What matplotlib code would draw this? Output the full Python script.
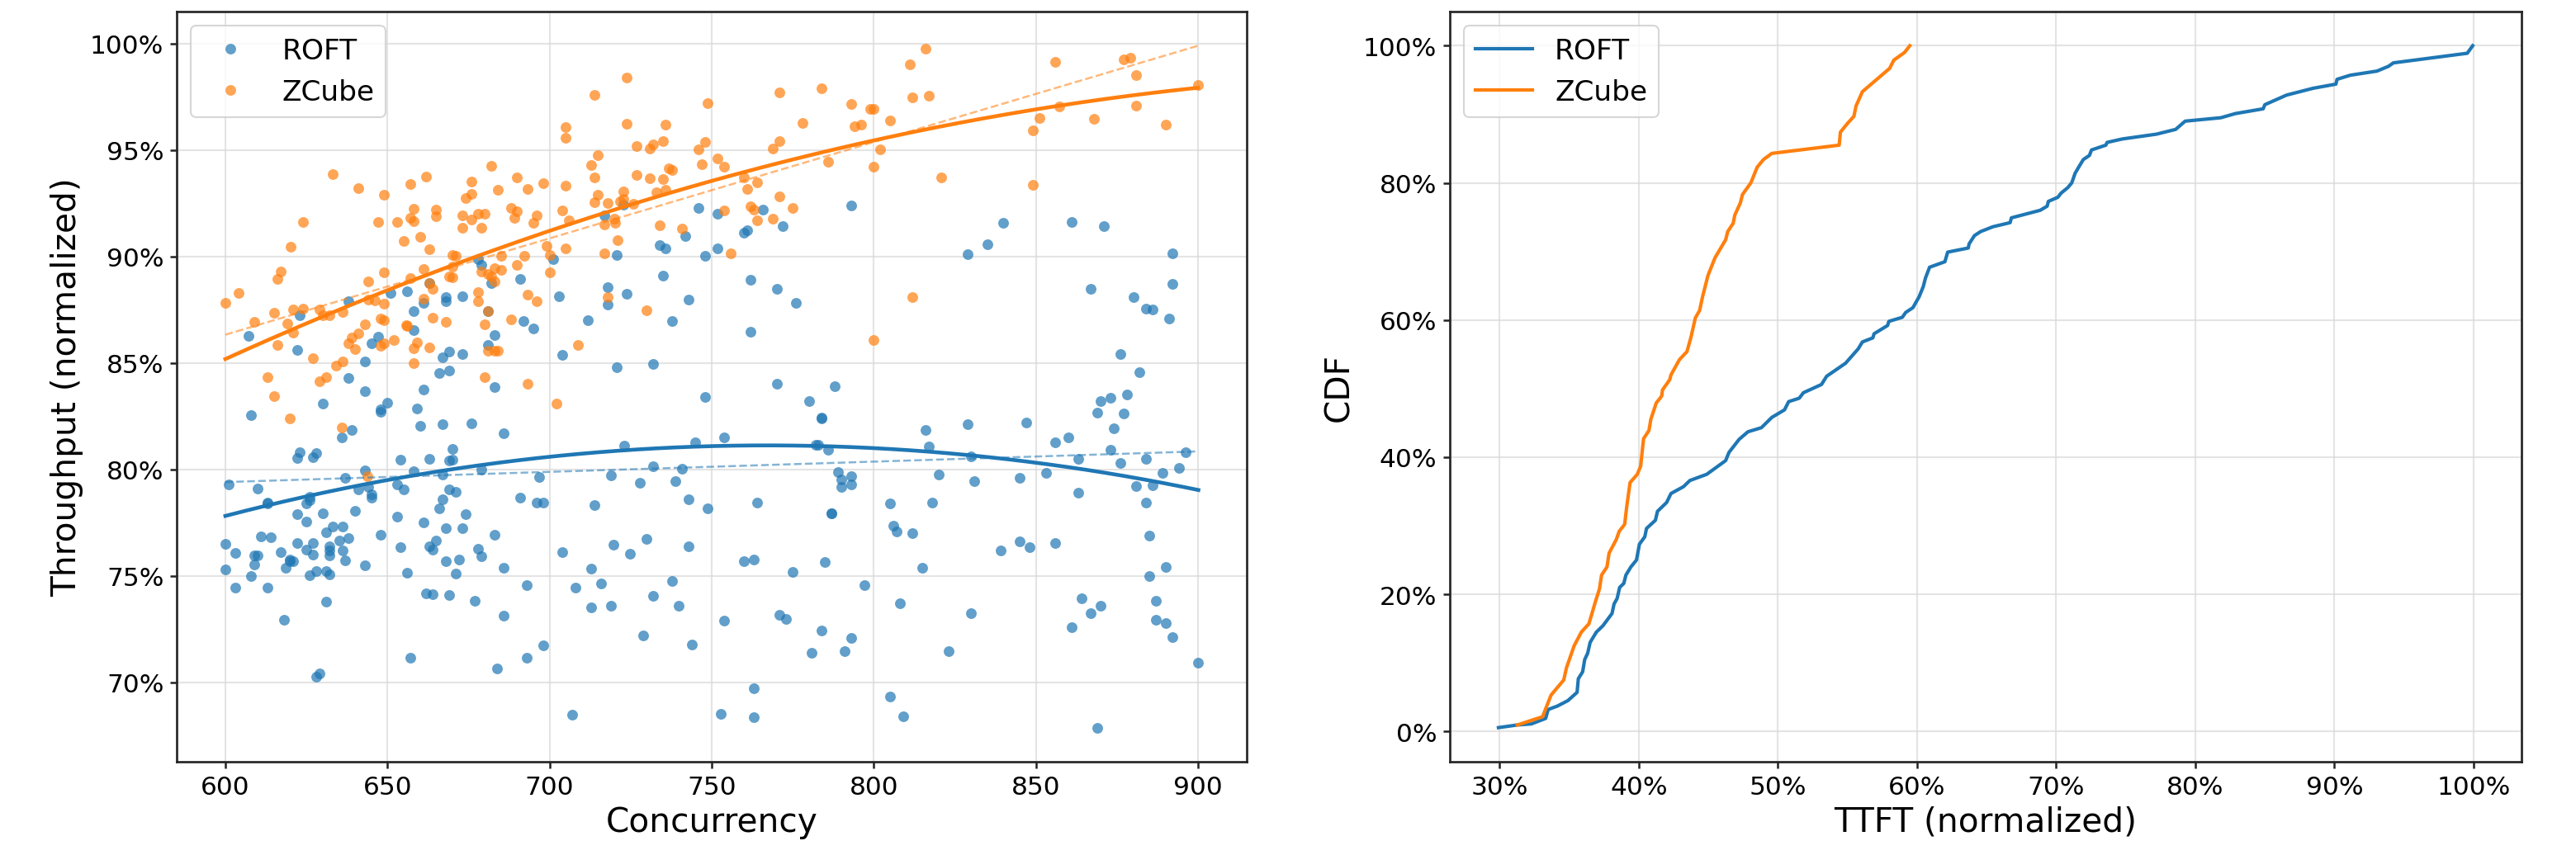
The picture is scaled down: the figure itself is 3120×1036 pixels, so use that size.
import matplotlib
matplotlib.use("Agg")
import matplotlib.pyplot as plt
from matplotlib.ticker import MultipleLocator, PercentFormatter
import numpy as np

# ---- scatter data: concurrency vs normalized throughput (%) ----
roft_conc = [
    607.1, 623.0, 622.1, 637.9, 637.9, 643.0, 643.0, 645.0, 647.0, 651.0, 656.0, 658.0, 658.0, 661.0, 661.0,
    663.0, 666.0, 667.1, 668.0, 668.0, 669.0, 669.0, 673.0, 673.0, 678.0, 679.0, 682.0, 681.0, 683.0, 681.0,
    683.0, 691.0, 692.0, 695.0, 701.0, 703.0, 704.0, 711.9, 716.9, 717.9, 717.9, 720.8, 720.8, 722.8, 723.8,
    731.9, 733.9, 735.8, 734.9, 737.8, 741.8, 742.9, 745.9, 747.9, 751.8, 751.8, 747.9,
    759.9, 760.9, 765.9, 772.0, 761.9, 770.0, 776.0, 761.9, 770.0, 787.9, 793.0, 829.0, 835.0, 839.9, 861.0,
    871.0, 892.1, 892.1, 867.0, 880.1, 884.0, 886.0, 891.1, 876.1, 882.0, 873.0, 878.0,
    608.0, 630.0, 648.0, 648.0, 650.0, 659.0, 660.0, 667.0, 676.0, 685.9, 635.9, 639.0, 623.0, 622.1, 627.0,
    628.0, 670.0, 654.0, 663.0, 669.0, 670.0, 722.9, 744.9, 753.9, 643.0, 658.0, 679.0, 731.9, 740.8, 601.0,
    610.0, 637.0, 644.0, 641.0, 645.1, 645.1, 652.9, 655.0, 667.0, 669.0, 671.0, 667.0, 666.0, 696.9, 719.0,
    727.9, 738.9, 742.9, 748.8, 691.0, 696.0, 698.0, 713.9, 613.0, 613.0, 626.0, 626.0, 625.0, 630.0, 622.1,
    625.0, 640.0, 652.9, 661.0, 674.0, 673.0, 668.0, 633.0, 631.0, 636.1, 648.0, 611.0, 614.0, 600.0, 622.1,
    627.0, 635.1, 638.0, 632.0, 632.0, 632.0, 636.1, 625.0, 627.0, 603.1, 609.0, 610.0, 609.0, 617.0, 620.0,
    620.0, 621.0, 637.0, 618.6, 600.0, 608.0, 626.0, 628.0, 631.0, 632.0, 643.0, 654.0, 663.0, 664.0, 665.0,
    668.0, 672.0, 671.0, 656.0, 678.0, 679.0, 683.0, 685.9, 704.0, 712.9, 719.8, 724.8, 729.9, 742.9, 603.1,
    613.0, 631.0, 662.0, 664.0, 669.0, 677.0, 685.9, 692.9, 707.9, 715.9, 712.9, 719.0, 731.9, 737.9, 739.9,
    753.9, 618.1, 657.0, 692.9, 698.0, 683.9, 728.9, 743.9, 628.0, 629.0, 706.9, 752.9,
    780.0, 783.9, 783.9, 782.0, 782.9, 785.9, 788.9, 790.0, 790.0, 793.0, 793.0, 763.9, 787.0, 787.0, 805.0,
    806.0, 807.0, 812.0, 818.0, 816.0, 817.0, 820.0, 829.0, 830.0, 831.0, 847.0, 845.0, 853.0, 856.0, 860.1,
    863.0, 863.0, 869.0, 870.0, 877.0, 874.0, 873.0, 876.0, 884.0, 880.9, 886.0, 889.0, 894.0, 896.1, 884.0,
    885.0, 890.0, 885.0, 887.0, 887.0, 890.0, 892.0, 900.1, 864.0, 867.0, 870.0, 861.0, 869.0, 856.0, 845.0,
    848.0, 839.1, 815.0, 830.0, 823.0, 808.0, 805.0, 809.0, 797.0, 759.9, 762.9, 775.0, 784.9, 771.0, 773.0,
    783.9, 793.0, 791.0, 780.9, 762.9, 762.9,
]
roft_tput = [
    86.28, 87.24, 85.62, 87.89, 84.30, 85.08, 83.66, 85.92, 86.24, 88.27, 88.37, 87.44, 86.56, 87.83, 83.75,
    88.76, 84.53, 85.27, 88.11, 87.89, 85.53, 84.66, 88.14, 85.40, 89.86, 89.60, 88.76, 87.43, 86.33, 85.83,
    83.85, 88.95, 86.98, 86.63, 89.88, 88.15, 85.37, 87.02, 91.95, 88.57, 87.73, 90.08, 84.78, 92.44, 88.24,
    84.95, 90.54, 90.40, 89.12, 86.98, 90.96, 87.96, 92.29, 90.03, 92.02, 90.37, 83.40,
    91.11, 91.25, 92.20, 91.43, 88.89, 88.48, 87.83, 86.46, 84.04, 83.89, 92.40, 90.12, 90.57, 91.58, 91.63,
    91.43, 90.16, 88.70, 88.50, 88.09, 87.57, 87.51, 87.08, 85.40, 84.56, 83.35, 83.52,
    82.55, 83.11, 82.81, 82.71, 83.15, 82.85, 82.06, 82.14, 82.17, 81.68, 81.52, 81.86, 80.81, 80.52, 80.58,
    80.75, 80.98, 80.46, 80.49, 80.40, 80.45, 81.10, 81.29, 81.52, 79.97, 79.91, 80.01, 80.14, 80.03, 79.29,
    79.10, 79.59, 79.16, 79.05, 78.81, 78.66, 79.30, 79.05, 79.74, 79.05, 78.94, 78.58, 78.17, 79.64, 79.72,
    79.39, 79.43, 78.59, 78.17, 78.66, 78.43, 78.43, 78.34, 78.45, 78.40, 78.71, 78.55, 78.39, 77.94, 77.88,
    77.56, 78.06, 77.78, 77.52, 77.88, 77.23, 77.23, 77.30, 77.03, 77.30, 76.92, 76.84, 76.81, 76.52, 76.55,
    76.55, 76.66, 76.79, 76.39, 76.19, 75.97, 76.19, 76.23, 76.00, 76.06, 75.96, 75.96, 75.55, 76.13, 75.75,
    75.70, 75.69, 75.74, 75.37, 75.30, 74.98, 75.03, 75.24, 75.24, 75.05, 75.48, 76.34, 76.40, 76.23, 76.65,
    75.68, 75.75, 75.11, 75.14, 76.27, 75.94, 76.92, 75.39, 76.10, 75.33, 76.45, 76.04, 76.72, 76.40, 74.45,
    74.46, 73.78, 74.19, 74.13, 74.10, 73.82, 73.14, 74.55, 74.45, 74.66, 73.50, 73.59, 74.06, 74.77, 73.59,
    72.90, 72.92, 71.14, 71.16, 71.75, 70.65, 72.21, 71.78, 70.26, 70.43, 68.49, 68.52,
    83.20, 82.43, 82.39, 81.14, 81.14, 80.94, 79.88, 79.52, 79.16, 79.69, 79.29, 78.43, 77.94, 77.92, 78.39,
    77.37, 77.10, 77.01, 78.43, 81.85, 81.07, 79.75, 82.14, 80.62, 79.43, 82.21, 79.59, 79.85, 81.26, 81.51,
    80.48, 78.90, 82.66, 83.20, 82.62, 81.94, 80.92, 80.30, 80.49, 79.23, 79.24, 79.82, 80.05, 80.81, 78.43,
    76.88, 75.43, 74.98, 73.82, 72.92, 72.79, 72.14, 70.92, 73.95, 73.25, 73.59, 72.57, 67.87, 76.54, 76.61,
    76.35, 76.18, 75.39, 73.23, 71.46, 73.70, 69.33, 68.39, 74.58, 75.69, 75.75, 75.20, 75.64, 73.17, 72.97,
    72.43, 72.10, 71.47, 71.38, 69.72, 68.36,
]

zcube_conc = [
    600.0, 604.1, 609.0, 615.1, 616.0, 617.0, 619.0, 620.1, 621.0, 624.0, 624.0, 621.0, 616.0, 627.0, 613.0,
    615.0, 629.0, 630.0, 632.0, 633.0, 636.1, 636.1, 634.1, 629.0, 631.0, 637.9, 639.0, 641.0, 639.9, 643.0,
    644.0, 644.0, 646.0, 641.0, 647.0, 649.0, 649.0, 649.0, 648.0, 649.0, 648.0, 649.0, 652.0, 652.9, 655.0,
    657.0, 657.0, 658.0, 658.0, 660.0, 662.0, 663.0, 661.0, 657.0, 663.0, 664.0, 661.0, 664.0, 656.0, 655.7,
    659.0, 658.0, 663.0, 658.0, 665.0, 665.0, 668.0, 669.0, 670.0, 670.0, 671.0, 670.0, 673.0, 673.0, 674.0,
    676.0, 676.0, 676.0, 678.0, 679.0, 680.0, 682.0, 684.0, 678.0, 678.0, 679.0, 681.0, 681.0, 680.0, 681.0,
    683.0, 684.0, 682.0, 683.0, 685.0, 683.0, 685.0, 680.0, 688.0, 690.0, 689.1, 690.0, 693.1, 695.1, 696.0,
    692.1, 690.0, 688.0, 693.1, 696.0, 693.1, 698.0, 699.0, 700.0, 700.0, 704.0, 705.0, 705.0, 705.0, 706.0,
    705.0, 708.8, 702.0, 712.9, 713.9, 713.9, 714.9, 714.9, 713.9, 717.9, 716.9, 719.9, 720.2, 721.0, 716.9,
    717.9, 722.8, 722.8, 721.8, 723.8, 723.8, 725.9, 726.9, 726.9, 729.9, 730.9, 731.9, 730.9, 732.9, 733.9,
    734.9, 734.9, 735.8, 735.8, 736.8, 737.8, 740.8, 745.9, 746.9, 747.9, 748.8, 751.8, 753.9, 753.9, 755.9,
    759.9, 760.9, 763.9, 761.9, 762.9, 763.9, 768.9, 771.0, 775.0, 768.9, 771.0, 771.0, 778.0, 783.9, 786.0,
    793.0, 794.0, 796.0, 799.0, 799.9, 799.9, 802.0, 805.0, 811.0, 812.0, 816.0, 817.0, 820.9, 812.0, 799.9,
    849.0, 851.0, 849.0, 856.0, 857.1, 868.0, 877.1, 879.1, 881.0, 881.0, 890.0, 900.0, 620.0, 635.9, 643.9,
]
zcube_tput = [
    87.83, 88.27, 86.92, 87.34, 88.95, 89.30, 86.86, 90.44, 87.51, 87.57, 91.63, 86.41, 85.83, 85.23, 84.34,
    83.45, 87.53, 87.24, 87.24, 93.86, 87.38, 85.08, 84.88, 84.15, 84.34, 85.94, 86.18, 86.40, 85.66, 86.82,
    88.82, 87.98, 87.95, 93.22, 91.64, 92.89, 89.24, 87.79, 87.08, 87.02, 85.81, 85.92, 86.09, 91.64, 90.74,
    93.41, 91.80, 92.25, 91.67, 90.93, 93.76, 90.34, 89.43, 88.99, 88.76, 88.50, 88.02, 87.11, 86.72, 86.76,
    85.98, 85.69, 85.72, 85.01, 92.22, 91.90, 86.92, 89.08, 89.04, 90.08, 90.05, 89.51, 91.93, 91.37, 92.74,
    93.54, 92.95, 91.73, 92.02, 91.37, 92.02, 94.25, 93.15, 88.31, 87.89, 89.30, 89.17, 87.43, 86.82, 85.56,
    85.59, 85.56, 89.08, 89.47, 89.37, 88.82, 90.05, 84.34, 92.28, 92.12, 91.82, 93.73, 93.18, 91.60, 91.93,
    90.05, 89.60, 87.04, 88.22, 87.89, 84.01, 93.44, 90.50, 90.08, 89.24, 92.18, 96.09, 95.58, 93.31, 91.71,
    90.37, 85.83, 83.11, 94.31, 97.61, 93.70, 94.76, 92.92, 92.55, 92.51, 91.50, 91.77, 91.60, 90.76, 90.14,
    88.11, 93.06, 92.70, 92.59, 98.41, 96.25, 92.47, 95.19, 93.82, 87.49, 95.09, 95.28, 93.67, 93.02, 91.45,
    95.41, 93.64, 96.21, 93.13, 94.16, 94.06, 91.30, 95.03, 94.35, 95.39, 97.22, 94.60, 94.22, 92.16, 90.14,
    93.73, 93.18, 93.48, 92.35, 92.22, 91.69, 91.76, 92.83, 92.27, 95.09, 95.41, 97.71, 96.27, 97.91, 94.44,
    97.16, 96.12, 96.19, 96.93, 96.93, 94.22, 95.03, 96.38, 99.03, 97.48, 99.77, 97.55, 93.73, 88.11, 86.09,
    95.93, 96.49, 93.38, 99.16, 97.05, 96.45, 99.26, 99.32, 98.54, 97.08, 96.21, 98.06, 82.39, 81.95, 79.69,
]

# ---- CDF of normalized TTFT (%), traced ----
roft_ttft = [
    29.91, 31.27, 32.27, 33.3, 33.48, 34.14, 34.90, 35.56, 35.65, 35.96, 36.11, 36.32, 36.50, 36.95, 37.41,
    38.07, 38.22, 38.44, 38.62, 38.92, 39.07, 39.43, 39.83, 40.04, 40.43, 40.55, 41.19, 41.34, 42.0, 42.31,
    43.21, 43.67, 44.88, 46.24, 46.48, 47.21, 47.84, 48.81, 49.56, 50.47, 50.77, 51.53, 51.83, 53.13, 53.5,
    54.86, 55.77, 56.07, 56.82, 56.91, 57.88, 57.97, 58.94, 59.18, 59.7, 60.15, 60.45, 60.6, 60.9, 62.0,
    62.2, 63.68, 63.74, 64.12, 64.57, 65.45, 66.69, 66.78, 68.85, 69.35, 69.44, 70.12, 70.35, 70.83, 71.12,
    71.36, 71.65, 71.95, 72.39, 72.54, 73.57, 73.66, 74.75, 77.2, 78.59, 79.27, 81.84, 82.87, 84.88, 85.0,
    86.56, 88.48, 90.11, 90.19, 91.14, 93.06, 93.89, 94.24, 99.55, 99.94,
]
roft_cdf = [
    0.56, 0.95, 1.1, 1.9, 3.2, 3.7, 4.5, 5.7, 7.7, 8.7, 10.5, 11.4, 13.0, 14.5, 15.4,
    17.2, 18.6, 19.4, 21.0, 21.6, 22.8, 24.0, 25.0, 27.3, 28.4, 29.6, 30.8, 32.1, 33.4, 34.7,
    35.7, 36.6, 37.5, 39.5, 40.7, 42.6, 43.7, 44.3, 45.8, 46.9, 48.1, 48.6, 49.4, 50.6, 51.8,
    53.7, 55.8, 56.8, 57.4, 58.0, 59.2, 59.8, 60.4, 61.1, 61.8, 63.4, 64.9, 66.1, 67.7, 68.5,
    69.9, 70.5, 71.1, 72.3, 72.9, 73.6, 74.2, 74.9, 76.0, 76.6, 77.3, 77.9, 78.5, 79.3, 80.0,
    81.4, 82.4, 83.4, 84.0, 84.8, 85.5, 85.9, 86.4, 87.1, 87.8, 89.0, 89.5, 90.1, 90.8, 91.4,
    92.8, 93.8, 94.4, 95.1, 95.7, 96.3, 97.0, 97.5, 98.9, 100.0,
]
zcube_ttft = [
    31.27, 33.08, 33.3, 33.69, 34.14, 34.6, 34.8, 35.35, 35.87, 36.41, 36.86, 37.17, 37.32, 37.71, 37.86,
    38.38, 38.59, 38.98, 39.13, 39.37, 39.89, 40.13, 40.34, 40.73, 40.86, 41.25, 41.64, 41.70, 42.22, 42.31,
    42.91, 43.46, 43.76, 44.06, 44.37, 44.58, 44.97, 45.48, 46.24, 46.39, 46.78, 46.9, 47.30, 47.45, 48.05,
    48.51, 48.96, 49.56, 54.40, 54.49, 55.01, 55.46, 55.61, 56.07, 56.82, 58.03, 58.33, 59.09, 59.48,
]
zcube_cdf = [
    0.95, 2.15, 3.3, 5.3, 6.4, 7.5, 9.3, 12.5, 14.5, 15.7, 18.8, 20.8, 22.8, 24.0, 26.0,
    28.0, 29.2, 30.2, 32.8, 36.3, 37.5, 38.7, 42.7, 43.9, 45.5, 47.9, 48.9, 49.8, 51.3, 52.0,
    54.2, 55.4, 57.6, 60.3, 61.4, 63.4, 66.5, 69.1, 71.7, 72.9, 74.1, 75.3, 77.1, 78.3, 80.0,
    82.3, 83.4, 84.3, 85.5, 87.4, 88.7, 89.7, 91.2, 93.3, 94.6, 96.7, 97.9, 99.0, 100.0,
]

BLUE = "#1f77b4"
ORANGE = "#ff7f0e"

fig = plt.figure(figsize=(20.8, 6.913), dpi=150)
ax1 = fig.add_axes([0.0686, 0.109, 0.4155, 0.8765])
ax2 = fig.add_axes([0.5628, 0.109, 0.416, 0.8765])

# left: scatter + trend lines (quadratic solid, linear dashed)
for conc, tput, color, name in [(roft_conc, roft_tput, BLUE, "ROFT"),
                                (zcube_conc, zcube_tput, ORANGE, "ZCube")]:
    x = np.array(conc)
    y = np.array(tput)
    ax1.plot(x, y, "o", ms=6.2, mew=0, color=color, alpha=0.7, label=name, zorder=2)
    xs = np.linspace(x.min(), x.max(), 200)
    quad = np.poly1d(np.polyfit(x, y, 2))
    lin = np.poly1d(np.polyfit(x, y, 1))
    ax1.plot(xs, quad(xs), color=color, lw=2.2, zorder=3)
    ax1.plot(xs, lin(xs), color=color, lw=1.2, ls="--", alpha=0.55, zorder=3)

ax1.set_xlabel("Concurrency", fontsize=19.5)
ax1.set_ylabel("Throughput (normalized)", fontsize=19.5)
ax1.yaxis.set_major_locator(MultipleLocator(5))
ax1.yaxis.set_major_formatter(PercentFormatter(100, decimals=0))
ax1.legend(loc="upper left", fontsize=16.5, framealpha=0.8)

# right: CDF
ax2.plot(roft_ttft, roft_cdf, color=BLUE, lw=2, label="ROFT")
ax2.plot(zcube_ttft, zcube_cdf, color=ORANGE, lw=2, label="ZCube")
ax2.set_xlabel("TTFT (normalized)", fontsize=19.5)
ax2.set_ylabel("CDF", fontsize=19.5)
ax2.xaxis.set_major_locator(MultipleLocator(10))
ax2.yaxis.set_major_locator(MultipleLocator(20))
ax2.xaxis.set_major_formatter(PercentFormatter(100, decimals=0))
ax2.yaxis.set_major_formatter(PercentFormatter(100, decimals=0))
ax2.legend(loc="upper left", fontsize=16.5, framealpha=0.8)

for ax in (ax1, ax2):
    ax.grid(True, color="#d9d9d9", lw=1, alpha=0.7)
    ax.set_axisbelow(True)
    ax.tick_params(labelsize=15, length=4, width=1.2, colors="#222222", labelcolor="black")
    for sp in ax.spines.values():
        sp.set_color("#262626")
        sp.set_linewidth(1.3)

fig.savefig("out.png", dpi=150)
